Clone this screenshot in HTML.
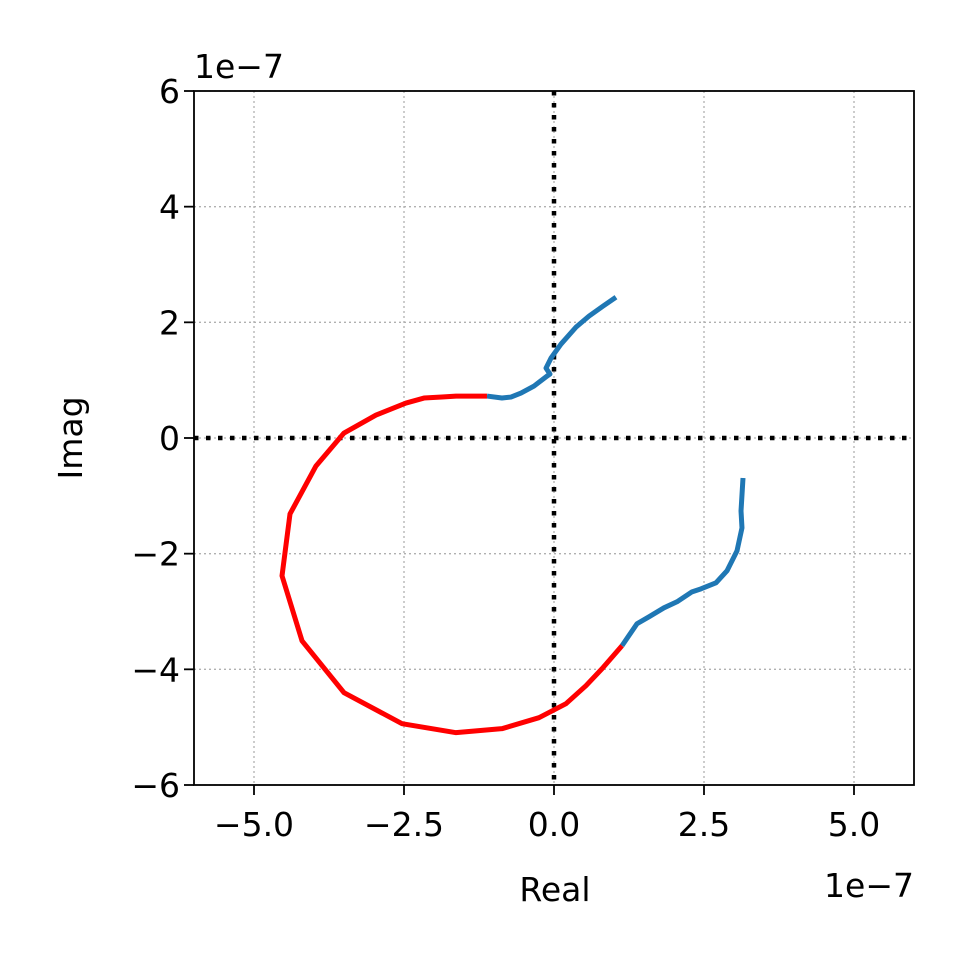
<!DOCTYPE html>
<html><head><meta charset="utf-8"><style>
body{margin:0;background:#fff}
svg text{font-family:"DejaVu Sans","Liberation Sans",sans-serif;fill:#000}
</style></head><body>
<svg id="chart" width="960" height="960">
<rect width="960" height="960" fill="#fff"/>
<g id="grid"></g><g id="series"></g><g id="axes"></g>
</svg>
<script>
const xTicks=[-5,-2.5,0,2.5,5];
const xTickLabels=["−5.0","−2.5","0.0","2.5","5.0"];
const yTicks=[-6,-4,-2,0,2,4,6];
const yTickLabels=["−6","−4","−2","0","2","4","6"];
const redX=[-1.117,-1.633,-1.867,-2.167,-2.467,-2.967,-3.5,-3.967,-4.4,-4.533,-4.2,-3.5,-2.533,-1.633,-0.867,-0.25,0.2,0.533,0.8,1.133];
const redY=[0.725,0.725,0.708,0.691,0.604,0.397,0.086,-0.484,-1.313,-2.383,-3.506,-4.404,-4.94,-5.095,-5.026,-4.836,-4.594,-4.283,-3.99,-3.592];
const blueTopX=[-1.117,-0.867,-0.717,-0.55,-0.333,-0.117,-0.067,-0.133,-0.05,0.117,0.367,0.583,0.817,1.033];
const blueTopY=[0.725,0.691,0.708,0.777,0.898,1.07,1.105,1.209,1.382,1.624,1.917,2.107,2.28,2.435];
const blueBotX=[1.133,1.383,1.583,1.833,2.05,2.3,2.45,2.7,2.883,3.05,3.133,3.117,3.15];
const blueBotY=[-3.592,-3.212,-3.092,-2.936,-2.832,-2.66,-2.608,-2.504,-2.297,-1.952,-1.554,-1.261,-0.691];
const L=194,R=914,T=91,B=785,xmin=-6,xmax=6,ymin=-6,ymax=6;
const sx=v=>L+(v-xmin)/(xmax-xmin)*(R-L);
const sy=v=>B-(v-ymin)/(ymax-ymin)*(B-T);
const NS="http://www.w3.org/2000/svg";
function mk(tag,attrs,parent){const e=document.createElementNS(NS,tag);for(const k in attrs)e.setAttribute(k,attrs[k]);parent.appendChild(e);return e;}
const grid=document.getElementById('grid'),series=document.getElementById('series'),axes=document.getElementById('axes');
xTicks.forEach((t,i)=>{
 const g=mk('line',{x1:sx(t),x2:sx(t),y1:T,y2:B,stroke:'#b0b0b0','stroke-width':1.3,'stroke-dasharray':'2,3'},grid);
 
 
 const tk=mk('line',{x1:sx(t),x2:sx(t),y1:B,y2:B+10,stroke:'#000','stroke-width':1.8},axes);
 
 
 const tx=mk('text',{x:sx(t),y:B+51,'font-size':33,'text-anchor':'middle'},axes);
 tx.textContent=xTickLabels[i];
 
 
});
yTicks.forEach((t,i)=>{
 const g=mk('line',{x1:L,x2:R,y1:sy(t),y2:sy(t),stroke:'#b0b0b0','stroke-width':1.3,'stroke-dasharray':'2,3'},grid);
 
 
 const tk=mk('line',{x1:L-10,x2:L,y1:sy(t),y2:sy(t),stroke:'#000','stroke-width':1.8},axes);
 
 
 const tx=mk('text',{x:L-14,y:sy(t)+12,'font-size':33,'text-anchor':'end'},axes);
 tx.textContent=yTickLabels[i];
 
 
});
const h=mk('line',{x1:L,x2:R,y1:sy(0),y2:sy(0),stroke:'#000','stroke-width':4.5,'stroke-dasharray':'4.5,7.5'},series);


const v=mk('line',{x1:sx(0),x2:sx(0),y1:T,y2:B,stroke:'#000','stroke-width':4.5,'stroke-dasharray':'4.5,7.5'},series);


function line(xs,ys,color,name){
 const p=mk('polyline',{points:xs.map((x,i)=>sx(x)+','+sy(ys[i])).join(' '),fill:'none',stroke:color,'stroke-width':5,'stroke-linejoin':'round'},series);
 
 
}
line(blueTopX,blueTopY,'#1f77b4','blue-curve-upper');
line(blueBotX,blueBotY,'#1f77b4','blue-curve-lower');
line(redX,redY,'#ff0000','red-curve');
const fr=mk('rect',{x:L,y:T,width:R-L,height:B-T,fill:'none',stroke:'#000','stroke-width':1.8},axes);


</script>
<svg width="960" height="960" style="position:absolute;left:0;top:0">
<text x="194" y="78" font-size="33">1e−7</text>
<text x="914" y="897" font-size="33" text-anchor="end">1e−7</text>
<text x="555" y="901" font-size="33" text-anchor="middle">Real</text>
<text x="0" y="0" font-size="33" text-anchor="middle" transform="translate(82,438) rotate(-90)">Imag</text>
</svg>
</body></html>
